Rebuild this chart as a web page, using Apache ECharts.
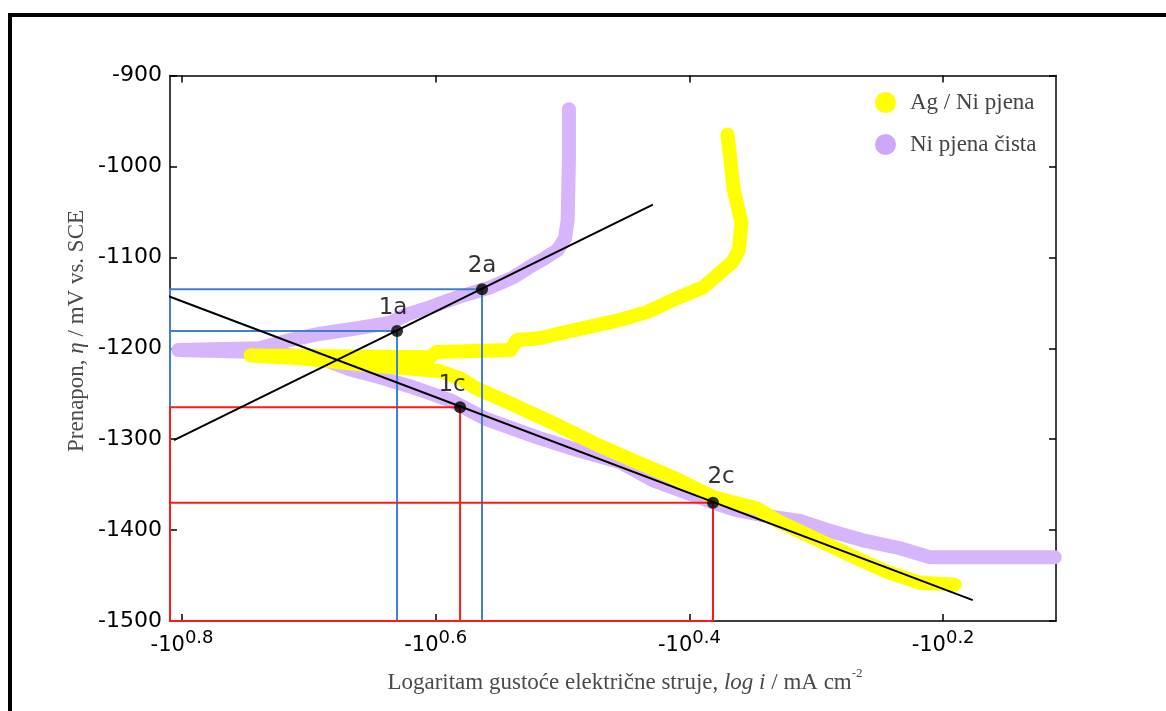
<!DOCTYPE html>
<html><head><meta charset="utf-8">
<script src="https://cdn.jsdelivr.net/npm/echarts@6/dist/echarts.min.js"></script>
<style>html,body{margin:0;padding:0;background:#fff}#c{width:1166px;height:711px}</style>
</head><body><div id="c"></div>
<script>
// exponent values e of the axis labels "-10^e"
const xTicks = [0.8, 0.6, 0.4, 0.2];
const xLeft = 0.8095, xRight = 0.111;
const yBottom = -1500, yTop = -900, yStep = 100;

// Ni pjena čista (purple)
const niX = [0.495,0.495,0.496,0.498,0.504,0.514,0.523,0.539,0.557,0.583,0.605,0.623,0.636,0.662,0.691,0.715,0.739,0.803,0.739,0.707,0.683,0.668,0.644,0.620,0.589,0.560,0.520,0.486,0.455,0.429,0.400,0.381,0.363,0.337,0.313,0.289,0.264,0.234,0.210,0.112];
const niY = [-937,-993,-1059,-1079,-1092,-1101,-1108,-1122,-1133,-1144,-1155,-1163,-1172,-1178,-1184,-1191,-1200,-1202,-1204,-1209,-1215,-1223,-1232,-1242,-1257,-1278,-1298,-1313,-1325,-1345,-1360,-1370,-1378,-1385,-1390,-1401,-1411,-1420,-1430,-1430];

// Ag / Ni pjena (yellow)
const agX = [0.370,0.365,0.359,0.361,0.366,0.376,0.389,0.410,0.433,0.455,0.481,0.500,0.518,0.536,0.541,0.599,0.605,0.746,0.707,0.650,0.597,0.581,0.568,0.539,0.508,0.476,0.445,0.413,0.381,0.347,0.329,0.303,0.268,0.244,0.218,0.191];
const agY = [-965,-1026,-1062,-1092,-1105,-1117,-1133,-1145,-1160,-1169,-1177,-1183,-1189,-1191,-1202,-1204,-1210,-1208,-1211,-1219,-1225,-1233,-1244,-1262,-1282,-1304,-1323,-1342,-1364,-1376,-1391,-1408,-1431,-1446,-1458,-1460];

// Tafel lines
const anodicX = [0.8063, 0.4288];
const anodicY = [-1301, -1042];
const cathodicX = [0.8197, 0.1766];
const cathodicY = [-1138, -1477];

// marked points
const pointNames = ['1a', '2a', '1c', '2c'];
const pointX = [0.6305, 0.5635, 0.5808, 0.3814];
const pointY = [-1181, -1135, -1265, -1370];

const zip = (a, b) => a.map((v, i) => [v, b[i]]);

const labelOffsets = {'1a': [-4, 0], '2a': [0, -1], '1c': [-8, 0], '2c': [8, -3]};
const rectColor = {'1a': '#3f7fcf', '2a': '#3f7fcf', '1c': '#ff1a1a', '2c': '#ff1a1a'};

const rectSeries = pointNames.map((n, i) => ({
  type: 'line', silent: true, symbol: 'none', z: 4,
  data: [[xLeft, yBottom], [xLeft, pointY[i]], [pointX[i], pointY[i]], [pointX[i], yBottom], [xLeft, yBottom]],
  lineStyle: {color: rectColor[n], width: 2}
}));
rectSeries.sort((a, b) => (a.lineStyle.color === '#ff1a1a') - (b.lineStyle.color === '#ff1a1a'));

const chart = echarts.init(document.getElementById('c'), null, {renderer: 'canvas'});
const fmt = v => '{b|-10}{s|' + v.toFixed(1) + '}';

chart.setOption({
  animation: false,
  backgroundColor: '#fff',
  grid: {left: 170, top: 75.5, right: 110, bottom: 90, containLabel: false},
  legend: {
    data: ['Ag / Ni pjena', 'Ni pjena čista'],
    orient: 'vertical', left: 870, top: 86, icon: 'circle',
    itemWidth: 21, itemHeight: 21, itemGap: 19,
    textStyle: {fontFamily: 'Liberation Serif', fontSize: 23, color: '#444', padding: [0, 0, 0, 9]}
  },
  xAxis: [{
    type: 'value', position: 'bottom', inverse: true, min: xRight, max: xLeft,
    axisLine: {lineStyle: {color: '#000', width: 1.5}},
    axisTick: {inside: true, length: 7, customValues: xTicks, lineStyle: {color: '#000', width: 1.5}},
    axisLabel: {customValues: xTicks, formatter: fmt, margin: 8,
      rich: {
        b: {fontFamily: 'DejaVu Sans', fontSize: 21, color: '#000', verticalAlign: 'bottom', lineHeight: 27},
        s: {fontFamily: 'DejaVu Sans', fontSize: 18, color: '#000', verticalAlign: 'top', lineHeight: 27}
      }},
    splitLine: {show: false}
  }, {
    type: 'value', position: 'top', inverse: true, min: xRight, max: xLeft,
    axisLine: {lineStyle: {color: '#000', width: 1.5}},
    axisTick: {inside: true, length: 7, customValues: xTicks, lineStyle: {color: '#000', width: 1.5}},
    axisLabel: {show: false}, splitLine: {show: false}
  }],
  yAxis: [{
    type: 'value', position: 'left', min: yBottom, max: yTop, interval: yStep,
    axisLine: {show: true, lineStyle: {color: '#000', width: 1.5}},
    axisTick: {show: true, inside: true, length: 7, lineStyle: {color: '#000', width: 1.5}},
    axisLabel: {fontFamily: 'DejaVu Sans', fontSize: 22, color: '#000', margin: 8, formatter: v => String(v)},
    splitLine: {show: false}
  }, {
    type: 'value', position: 'right', min: yBottom, max: yTop, interval: yStep,
    axisLine: {show: true, lineStyle: {color: '#000', width: 1.5}},
    axisTick: {show: true, inside: true, length: 7, lineStyle: {color: '#000', width: 1.5}},
    axisLabel: {show: false}, splitLine: {show: false}
  }],
  graphic: [
    {type: 'rect', shape: {x: 10, y: 15, width: 1400, height: 900}, style: {fill: null, stroke: '#000', lineWidth: 4}, silent: true},
    {type: 'text', x: 77, y: 331, rotation: Math.PI / 2, silent: true,
      style: {text: '{n|Prenapon, }{i|η}{n| / mV vs. SCE}', align: 'center', verticalAlign: 'middle',
        rich: {n: {fontFamily: 'Liberation Serif', fontSize: 23, fill: '#4a4a4a'},
               i: {fontFamily: 'Liberation Serif', fontSize: 23, fontStyle: 'italic', fill: '#4a4a4a'}}}},
    {type: 'text', x: 625, y: 681, silent: true,
      style: {text: '{n|Logaritam gustoće električne struje, }{i|log i}{n| / mA cm}{s|-2}', align: 'center', verticalAlign: 'middle',
        rich: {n: {fontFamily: 'Liberation Serif', fontSize: 23, fill: '#4a4a4a', verticalAlign: 'bottom', lineHeight: 27},
               i: {fontFamily: 'Liberation Serif', fontSize: 23, fontStyle: 'italic', fill: '#4a4a4a', verticalAlign: 'bottom', lineHeight: 27},
               s: {fontFamily: 'Liberation Serif', fontSize: 13, fill: '#4a4a4a', verticalAlign: 'top', lineHeight: 27}}}}
  ],
  series: [
    {name: 'Ni pjena čista', type: 'line', data: zip(niX, niY), symbol: 'none', clip: false, z: 2,
      itemStyle: {color: '#cda8fa'},
      lineStyle: {color: '#d6b5fd', width: 14, cap: 'round', join: 'round'}},
    {name: 'Ag / Ni pjena', type: 'line', data: zip(agX, agY), symbol: 'none', clip: false, z: 3,
      itemStyle: {color: '#ffff00'},
      lineStyle: {color: '#ffff00', width: 14, cap: 'round', join: 'round'}},
    ...rectSeries,
    {type: 'line', data: zip(anodicX, anodicY), symbol: 'none', clip: false, z: 5, silent: true,
      lineStyle: {color: '#000', width: 2}},
    {type: 'line', data: zip(cathodicX, cathodicY), symbol: 'none', clip: false, z: 5, silent: true,
      lineStyle: {color: '#000', width: 2}},
    {type: 'scatter', z: 6, symbolSize: 12, itemStyle: {color: '#000'},
      data: pointNames.map((n, i) => ({name: n, value: [pointX[i], pointY[i]], label: {offset: labelOffsets[n]}})),
      label: {show: true, position: 'top', distance: 5, formatter: p => p.name,
        fontFamily: 'DejaVu Sans', fontSize: 23, color: '#000'}}
  ]
});
</script></body></html>
